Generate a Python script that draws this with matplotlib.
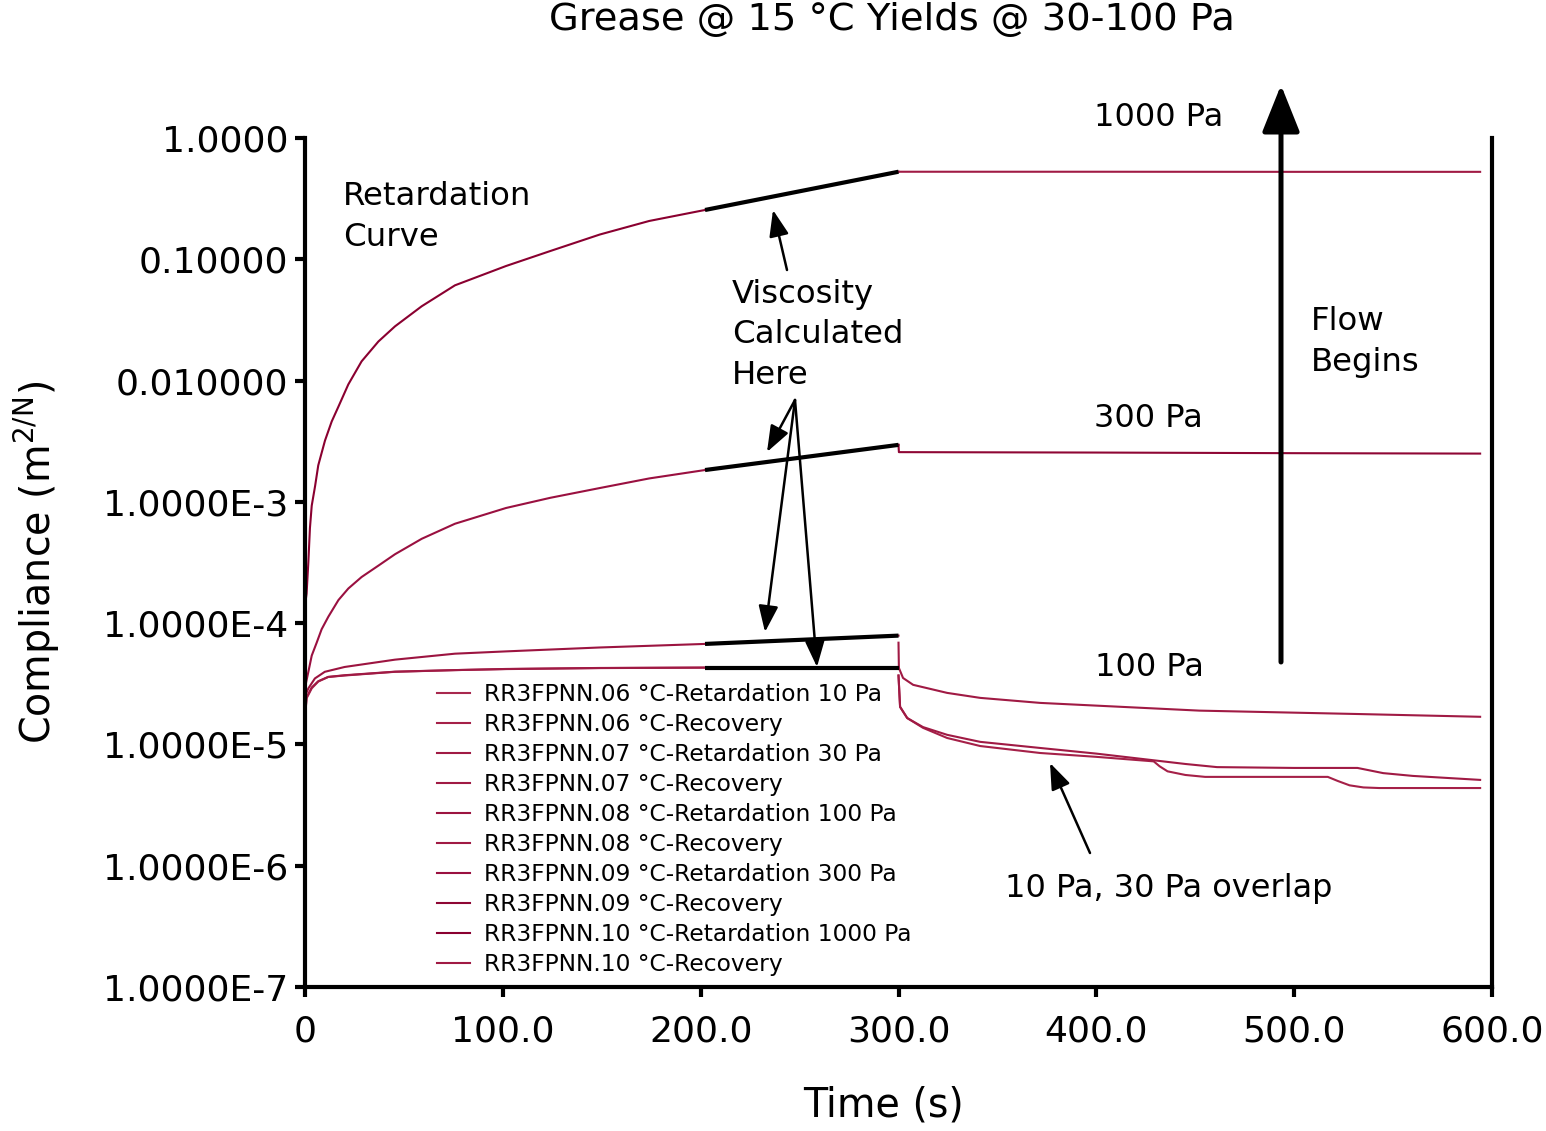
import numpy as np
import matplotlib
matplotlib.use("Agg")
from matplotlib import pyplot as plt
from matplotlib.ticker import FixedLocator, FixedFormatter

plt.rcParams['font.family'] = ['DejaVu Sans']

# ---- data ----
# retardation (creep) curves, t in s, compliance in m2/N
t_ret_10 = [0, 0.8, 3.4, 6.7, 11.7, 20, 45.5, 75.8, 101.6, 149, 202.2, 300]
j_ret_10 = [1.66e-5, 2.4e-5, 2.9e-5, 3.3e-5, 3.6e-5, 3.7e-5, 3.97e-5, 4.1e-5, 4.18e-5, 4.26e-5, 4.30e-5, 4.30e-5]
t_ret_30 = [0, 0.8, 3.4, 6.7, 11.7, 20, 45.5, 75.8, 101.6, 149, 202.2, 300]
j_ret_30 = [1.7e-5, 2.45e-5, 2.95e-5, 3.32e-5, 3.6e-5, 3.72e-5, 3.98e-5, 4.1e-5, 4.19e-5, 4.27e-5, 4.30e-5, 4.30e-5]
t_ret_100 = [0, 1.7, 5, 10, 20, 45.5, 75.8, 101.6, 149, 202.2, 300]
j_ret_100 = [2.5e-5, 2.9e-5, 3.5e-5, 3.97e-5, 4.35e-5, 5.0e-5, 5.6e-5, 5.85e-5, 6.3e-5, 6.74e-5, 7.89e-5]
t_ret_300 = [0, 0.3, 1.7, 3.4, 5.9, 8.4, 11.8, 16.9, 21.9, 28.6, 37.1, 45.5, 59, 75.8, 101.6, 124, 149,
             174, 202.2, 300]
j_ret_300 = [2.4e-5, 3.1e-5, 3.97e-5, 5.4e-5, 6.9e-5, 8.9e-5, 1.13e-4, 1.55e-4, 1.93e-4, 2.4e-4, 2.98e-4,
             3.7e-4, 4.96e-4, 6.6e-4, 8.9e-4, 1.08e-3, 1.30e-3, 1.56e-3, 1.83e-3, 2.95e-3]
t_ret_1000 = [0, 0.8, 1.7, 2.5, 3.4, 5.1, 6.7, 10.1, 13.5, 16.9, 21.9, 28.6, 37.1, 45.5, 59, 75.8, 101.6,
              124, 149, 174, 202.2, 300]
j_ret_1000 = [1.4e-4, 1.75e-4, 3.2e-4, 6.1e-4, 9.3e-4, 1.35e-3, 2.0e-3, 3.2e-3, 4.6e-3, 6.1e-3, 9.3e-3,
              0.0144, 0.021, 0.028, 0.041, 0.061, 0.088, 0.117, 0.160, 0.207, 0.255, 0.527]

# recovery curves
t_rec_10 = [300, 300.8, 304.4, 312.4, 324.6, 341.3, 371.6, 400, 429, 432, 436, 445, 455, 517, 522, 528, 535, 543, 594]
j_rec_10 = [3.7e-5, 2.04e-5, 1.65e-5, 1.37e-5, 1.13e-5, 9.7e-6, 8.5e-6, 7.9e-6, 7.25e-6, 6.6e-6, 6.0e-6, 5.6e-6,
            5.4e-6, 5.4e-6, 5.0e-6, 4.6e-6, 4.42e-6, 4.37e-6, 4.37e-6]
t_rec_30 = [300, 300.8, 304.4, 312.4, 324.6, 341.3, 371.6, 400, 429, 445, 461, 500, 520, 532, 545, 560, 594]
j_rec_30 = [3.7e-5, 2.04e-5, 1.65e-5, 1.39e-5, 1.20e-5, 1.05e-5, 9.35e-6, 8.4e-6, 7.4e-6, 6.9e-6, 6.5e-6, 6.4e-6,
            6.4e-6, 6.4e-6, 5.8e-6, 5.5e-6, 5.1e-6]
t_rec_100 = [300, 300.2, 302.3, 307.4, 324.6, 341.3, 371.6, 452, 533, 594]
j_rec_100 = [6.9e-5, 4.27e-5, 3.53e-5, 3.10e-5, 2.66e-5, 2.42e-5, 2.20e-5, 1.9e-5, 1.78e-5, 1.69e-5]
t_rec_300 = [300, 300.2, 400, 500, 594]
j_rec_300 = [2.95e-3, 2.57e-3, 2.55e-3, 2.52e-3, 2.5e-3]
t_rec_1000 = [300, 400, 500, 594]
j_rec_1000 = [0.527, 0.527, 0.526, 0.526]

# viscosity fit segments (black)
t_fit = [202.2, 300]
j_fit_1000 = [0.255, 0.527]
j_fit_300 = [1.83e-3, 2.95e-3]
j_fit_100 = [6.74e-5, 7.89e-5]
j_fit_10 = [4.30e-5, 4.30e-5]

labels = ["RR3FPNN.06 °C-Retardation 10 Pa", "RR3FPNN.06 °C-Recovery",
          "RR3FPNN.07 °C-Retardation 30 Pa", "RR3FPNN.07 °C-Recovery",
          "RR3FPNN.08 °C-Retardation 100 Pa", "RR3FPNN.08 °C-Recovery",
          "RR3FPNN.09 °C-Retardation 300 Pa", "RR3FPNN.09 °C-Recovery",
          "RR3FPNN.10 °C-Retardation 1000 Pa", "RR3FPNN.10 °C-Recovery"]
colors = ["#A8284E", "#A52048", "#A01A44", "#A01A44", "#9C1440",
          "#A01A44", "#9A1040", "#8E0634", "#8A0030", "#A01A44"]

ytick_vals = [1e-7, 1e-6, 1e-5, 1e-4, 1e-3, 0.01, 0.1, 1.0]
ytick_labels = ["1.0000E-7", "1.0000E-6", "1.0000E-5", "1.0000E-4", "1.0000E-3",
                "0.010000", "0.10000", "1.0000"]
xtick_vals = [0, 100, 200, 300, 400, 500, 600]
xtick_labels = ["0", "100.0", "200.0", "300.0", "400.0", "500.0", "600.0"]

W, H = 1546, 1131


def px(x, y):
    return (x / W, 1 - y / H)


fig = plt.figure(figsize=(W / 100, H / 100), dpi=100)
ax = fig.add_axes([305 / W, 1 - 987 / H, (1492 - 305) / W, (987 - 138) / H])

series = [(t_ret_10, j_ret_10), (t_rec_10, j_rec_10),
          (t_ret_30, j_ret_30), (t_rec_30, j_rec_30),
          (t_ret_100, j_ret_100), (t_rec_100, j_rec_100),
          (t_ret_300, j_ret_300), (t_rec_300, j_rec_300),
          (t_ret_1000, j_ret_1000), (t_rec_1000, j_rec_1000)]
for (t, j), lab, c in zip(series, labels, colors):
    ax.plot(t, j, color=c, lw=1.5, label=lab)

for jf in [j_fit_1000, j_fit_300, j_fit_100, j_fit_10]:
    ax.plot(t_fit, jf, color="black", lw=3, solid_capstyle="butt", zorder=3)

ax.set_yscale("log")
ax.set_xlim(0, 600)
ax.set_ylim(1e-7, 1.0)
ax.yaxis.set_major_locator(FixedLocator(ytick_vals))
ax.yaxis.set_major_formatter(FixedFormatter(ytick_labels))
ax.yaxis.set_minor_locator(FixedLocator([]))
ax.xaxis.set_major_locator(FixedLocator(xtick_vals))
ax.xaxis.set_major_formatter(FixedFormatter(xtick_labels))
ax.tick_params(axis="both", which="major", direction="out", length=7, width=3,
               labelsize=26, color="black")
ax.tick_params(axis="x", pad=13)
ax.tick_params(axis="y", pad=5)
ax.spines["top"].set_visible(False)
for s in ["left", "bottom", "right"]:
    ax.spines[s].set_linewidth(3)

leg = ax.legend(loc="upper left", bbox_to_anchor=px(437, 683), bbox_transform=fig.transFigure,
                frameon=False, fontsize=16.8, handlelength=1.42, handletextpad=0.6,
                labelspacing=0.3, borderpad=0, borderaxespad=0)
for ln in leg.get_lines():
    ln.set_linewidth(1.5)

# titles and labels
fig.text(*px(892, 20), "Grease @ 15 °C Yields @ 30-100 Pa", fontsize=27.7, ha="center", va="center")
fig.text(*px(884, 1105), "Time (s)", fontsize=28.5, ha="center", va="center")
fig.text(*px(37, 562), r"Compliance (m$^{\mathregular{2/N}}$)", fontsize=28.5, ha="center",
         va="center", rotation=90)

# annotations
ann = dict(fontsize=23.3, ha="left", va="center", linespacing=1.38)
fig.text(*px(343, 217), "Retardation\nCurve", **ann)
fig.text(*px(732, 335), "Viscosity\nCalculated\nHere", **ann)
fig.text(*px(1311, 342), "Flow\nBegins", **ann)
fig.text(*px(1159, 117), "1000 Pa", fontsize=23, ha="center", va="center")
fig.text(*px(1148, 419), "300 Pa", fontsize=23, ha="center", va="center")
fig.text(*px(1149, 668), "100 Pa", fontsize=23, ha="center", va="center")
fig.text(*px(1169, 889), "10 Pa, 30 Pa overlap", fontsize=23, ha="center", va="center")

arrow = dict(arrowstyle="-|>,head_length=0.8,head_width=0.3", color="black", lw=1.8,
             mutation_scale=20, shrinkA=0, shrinkB=0)
for start, tip in [((787, 270), (773, 210)),
                   ((795, 400), (767, 452)),
                   ((795, 400), (765, 632)),
                   ((795, 400), (817, 667)),
                   ((1090, 853), (1050, 763))]:
    ax.annotate("", xy=px(*tip), xycoords="figure fraction", xytext=px(*start),
                textcoords="figure fraction", arrowprops=arrow, annotation_clip=False)

big = dict(arrowstyle="-|>,head_length=1.45,head_width=0.58", color="black", lw=3.6,
           mutation_scale=20, shrinkA=0, shrinkB=0)
ax.annotate("", xy=px(1281, 85), xycoords="figure fraction", xytext=px(1281, 662),
            textcoords="figure fraction", arrowprops=big, annotation_clip=False)

fig.savefig("out.png", dpi=100)
